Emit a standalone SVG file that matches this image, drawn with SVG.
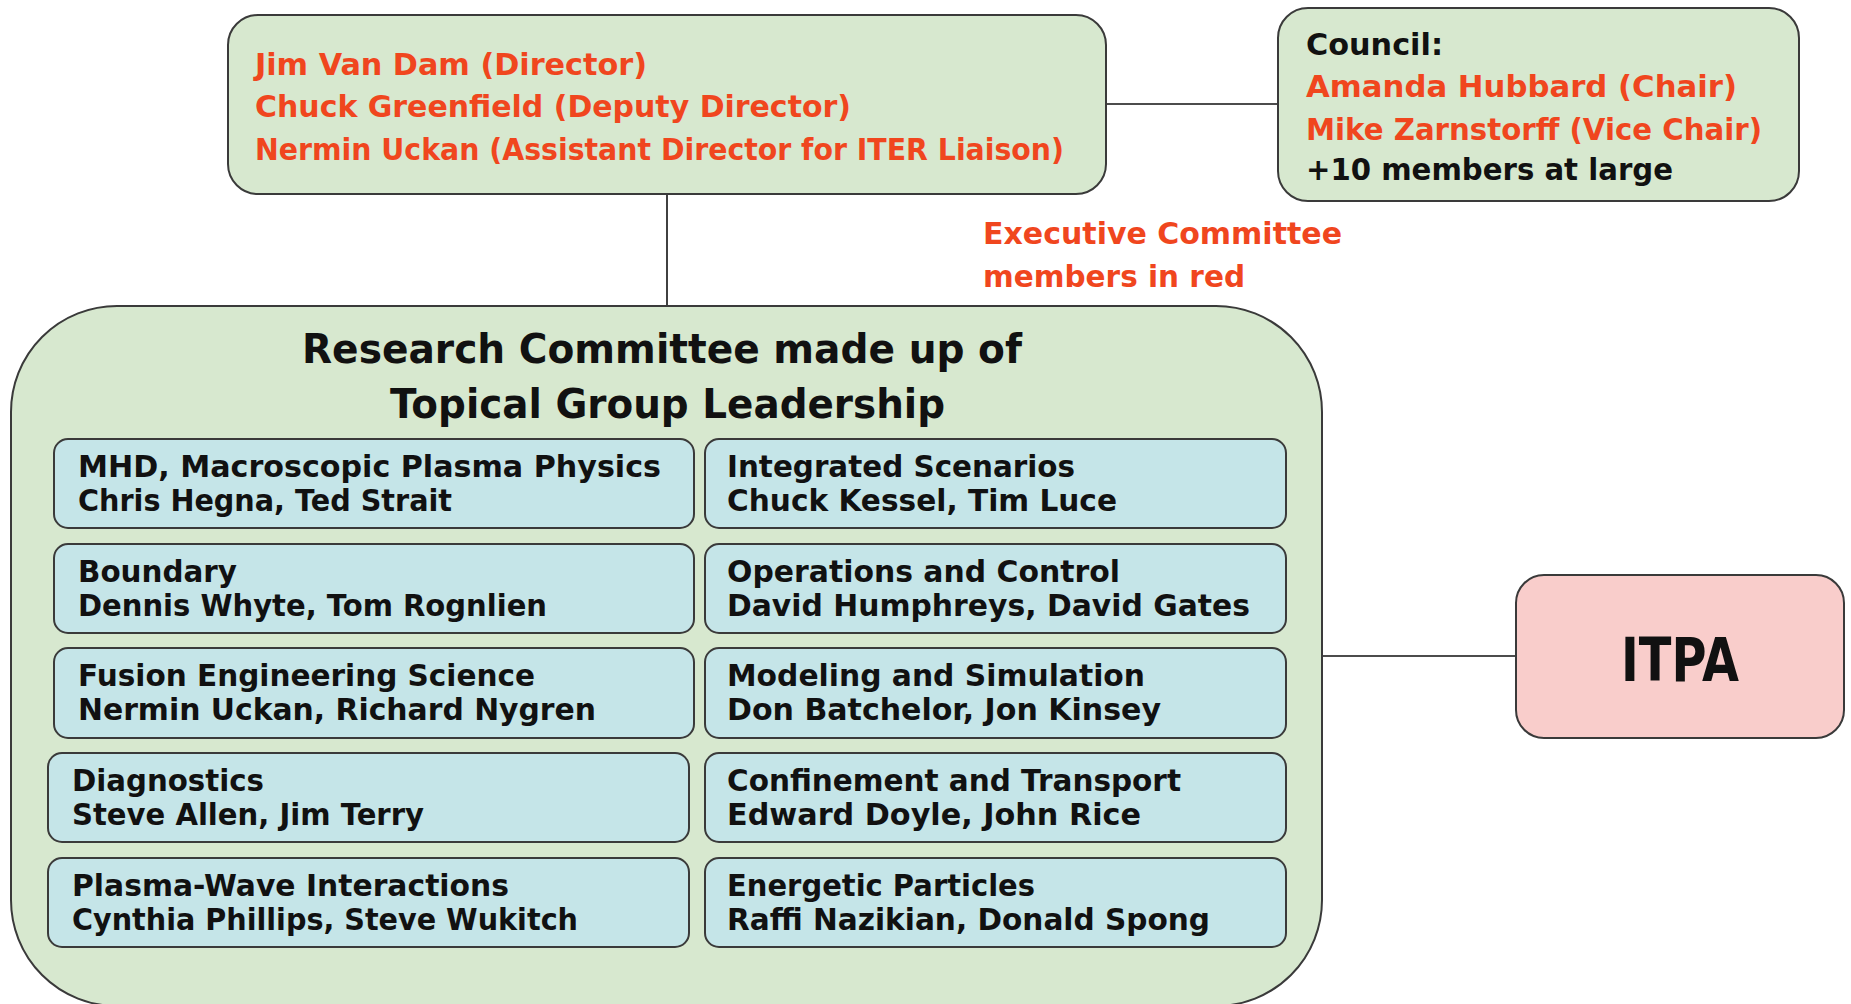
<svg xmlns="http://www.w3.org/2000/svg" width="1851" height="1004" viewBox="0 0 1851 1004">
<style>
text{font-family:"DejaVu Sans","Liberation Sans",sans-serif;font-weight:bold;}
.red{fill:#f0461e;font-size:31px;}
.blk{fill:#111;font-size:31px;}
.grp{fill:#111;font-size:30px;}
.ttl{fill:#111;font-size:40px;}
.green{fill:#d7e8cf;stroke:#3a3a3a;stroke-width:2;}
.blue{fill:#c5e5e8;stroke:#3a3a3a;stroke-width:2;}
.pink{fill:#f9cdcb;stroke:#3a3a3a;stroke-width:2;}
.conn{stroke:#111;stroke-width:1.6;fill:none;}
</style>
<rect width="1851" height="1004" fill="#ffffff"/>
<g id="connectors">
<line class="conn" x1="1106" y1="104" x2="1278" y2="104"/>
<line class="conn" x1="667" y1="194" x2="667" y2="306"/>
<line class="conn" x1="1322" y1="656" x2="1516" y2="656"/>
</g>
<g id="director">
<rect class="green" x="228" y="15" width="878" height="179" rx="30"/>
<text class="red" x="255" y="75" textLength="392" lengthAdjust="spacingAndGlyphs">Jim Van Dam (Director)</text>
<text class="red" x="255" y="117" textLength="596" lengthAdjust="spacingAndGlyphs">Chuck Greenfield (Deputy Director)</text>
<text class="red" x="255" y="160" textLength="809" lengthAdjust="spacingAndGlyphs">Nermin Uckan (Assistant Director for ITER Liaison)</text>
</g>
<g id="council">
<rect class="green" x="1278" y="8" width="521" height="193" rx="30"/>
<text class="blk" x="1306" y="55" textLength="137" lengthAdjust="spacingAndGlyphs">Council:</text>
<text class="red" x="1306" y="97" textLength="431" lengthAdjust="spacingAndGlyphs">Amanda Hubbard (Chair)</text>
<text class="red" x="1306" y="140" textLength="456" lengthAdjust="spacingAndGlyphs">Mike Zarnstorff (Vice Chair)</text>
<text class="blk" x="1306" y="180" textLength="367" lengthAdjust="spacingAndGlyphs">+10 members at large</text>
</g>
<g id="exec-note">
<text class="red" x="983" y="244" textLength="359" lengthAdjust="spacingAndGlyphs">Executive Committee</text>
<text class="red" x="983" y="287" textLength="262" lengthAdjust="spacingAndGlyphs">members in red</text>
</g>
<g id="research">
<rect class="green" x="11" y="306" width="1311" height="700" rx="106"/>
<text class="ttl" x="302" y="363" textLength="720" lengthAdjust="spacingAndGlyphs">Research Committee made up of</text>
<text class="ttl" x="390" y="418" textLength="555" lengthAdjust="spacingAndGlyphs">Topical Group Leadership</text>
</g>
<g id="mhd">
<rect class="blue" x="54" y="439" width="640" height="89" rx="14"/>
<text class="grp" x="78" y="477" textLength="583" lengthAdjust="spacingAndGlyphs">MHD, Macroscopic Plasma Physics</text>
<text class="grp" x="78" y="511" textLength="374" lengthAdjust="spacingAndGlyphs">Chris Hegna, Ted Strait</text>
</g>
<g id="integrated">
<rect class="blue" x="705" y="439" width="581" height="89" rx="14"/>
<text class="grp" x="727" y="477" textLength="348" lengthAdjust="spacingAndGlyphs">Integrated Scenarios</text>
<text class="grp" x="727" y="511" textLength="390" lengthAdjust="spacingAndGlyphs">Chuck Kessel, Tim Luce</text>
</g>
<g id="boundary">
<rect class="blue" x="54" y="544" width="640" height="89" rx="14"/>
<text class="grp" x="78" y="582" textLength="159" lengthAdjust="spacingAndGlyphs">Boundary</text>
<text class="grp" x="78" y="616" textLength="469" lengthAdjust="spacingAndGlyphs">Dennis Whyte, Tom Rognlien</text>
</g>
<g id="operations">
<rect class="blue" x="705" y="544" width="581" height="89" rx="14"/>
<text class="grp" x="727" y="582" textLength="393" lengthAdjust="spacingAndGlyphs">Operations and Control</text>
<text class="grp" x="727" y="616" textLength="523" lengthAdjust="spacingAndGlyphs">David Humphreys, David Gates</text>
</g>
<g id="fusion">
<rect class="blue" x="54" y="648" width="640" height="90" rx="14"/>
<text class="grp" x="78" y="686" textLength="457" lengthAdjust="spacingAndGlyphs">Fusion Engineering Science</text>
<text class="grp" x="78" y="720" textLength="518" lengthAdjust="spacingAndGlyphs">Nermin Uckan, Richard Nygren</text>
</g>
<g id="modeling">
<rect class="blue" x="705" y="648" width="581" height="90" rx="14"/>
<text class="grp" x="727" y="686" textLength="418" lengthAdjust="spacingAndGlyphs">Modeling and Simulation</text>
<text class="grp" x="727" y="720" textLength="434" lengthAdjust="spacingAndGlyphs">Don Batchelor, Jon Kinsey</text>
</g>
<g id="diagnostics">
<rect class="blue" x="48" y="753" width="641" height="89" rx="14"/>
<text class="grp" x="72" y="791" textLength="192" lengthAdjust="spacingAndGlyphs">Diagnostics</text>
<text class="grp" x="72" y="825" textLength="352" lengthAdjust="spacingAndGlyphs">Steve Allen, Jim Terry</text>
</g>
<g id="confinement">
<rect class="blue" x="705" y="753" width="581" height="89" rx="14"/>
<text class="grp" x="727" y="791" textLength="454" lengthAdjust="spacingAndGlyphs">Confinement and Transport</text>
<text class="grp" x="727" y="825" textLength="414" lengthAdjust="spacingAndGlyphs">Edward Doyle, John Rice</text>
</g>
<g id="plasma-wave">
<rect class="blue" x="48" y="858" width="641" height="89" rx="14"/>
<text class="grp" x="72" y="896" textLength="437" lengthAdjust="spacingAndGlyphs">Plasma-Wave Interactions</text>
<text class="grp" x="72" y="930" textLength="506" lengthAdjust="spacingAndGlyphs">Cynthia Phillips, Steve Wukitch</text>
</g>
<g id="energetic">
<rect class="blue" x="705" y="858" width="581" height="89" rx="14"/>
<text class="grp" x="727" y="896" textLength="308" lengthAdjust="spacingAndGlyphs">Energetic Particles</text>
<text class="grp" x="727" y="930" textLength="483" lengthAdjust="spacingAndGlyphs">Raffi Nazikian, Donald Spong</text>
</g>
<g id="itpa">
<rect class="pink" x="1516" y="575" width="328" height="163" rx="28"/>
<text x="1680" y="681" text-anchor="middle" font-size="60" fill="#111" textLength="118" lengthAdjust="spacingAndGlyphs">ITPA</text>
</g>
</svg>
